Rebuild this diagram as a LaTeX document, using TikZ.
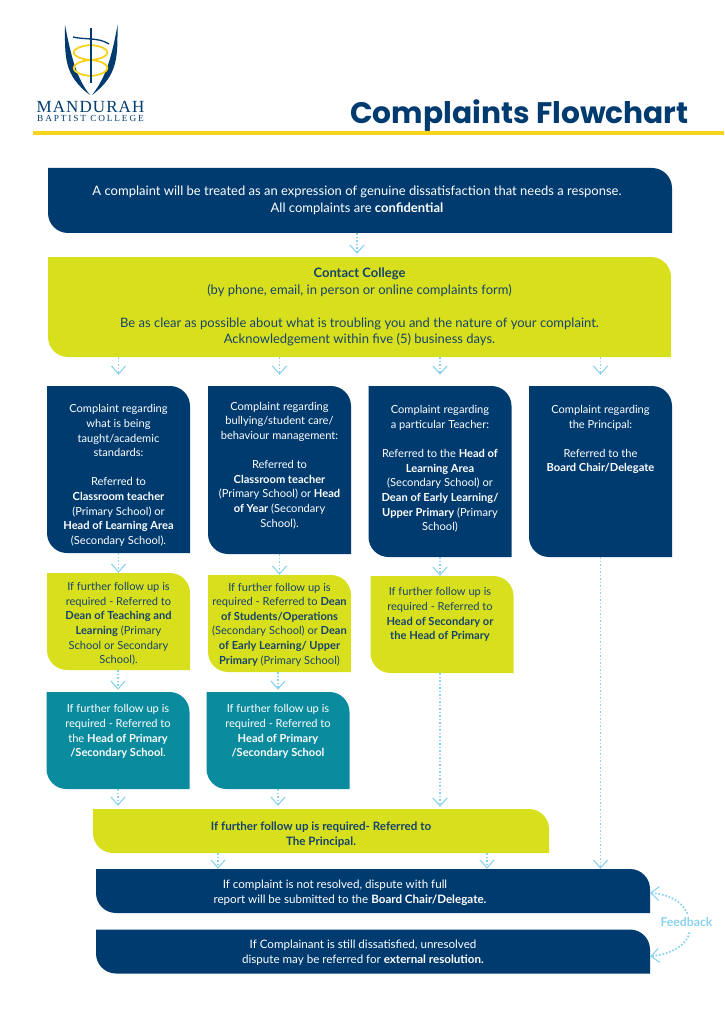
\documentclass[tikz,border=0pt]{standalone}
\usepackage{fontspec}
\setmainfont{Lato}
\newfontfamily\titlefont{Poppins}
\newfontfamily\crestfont[LetterSpace=6.5]{Liberation Serif}
\newfontfamily\crestsubfont[LetterSpace=20]{Liberation Serif}
\usepackage{xcolor}
\usetikzlibrary{positioning,arrows.meta}
\definecolor{navy}{HTML}{003B70}
\definecolor{lime}{HTML}{D8E01E}
\definecolor{teal}{HTML}{0A8B9E}
\definecolor{goldline}{HTML}{F7D31E}
\definecolor{sky}{HTML}{8AD2EE}
\definecolor{inkblue}{HTML}{17436A}
\newcommand{\bodysize}{\fontsize{11.1}{14.6}\selectfont}

\begin{document}
\begin{tikzpicture}[x=1pt, y=-1pt,
    panel/.style={rectangle, inner sep=0pt, align=center, path picture={
        \fill[#1] (path picture bounding box.north west) [rounded corners=20pt]
            -- (path picture bounding box.north east) [sharp corners]
            -- (path picture bounding box.south east) [rounded corners=20pt]
            -- (path picture bounding box.south west) [sharp corners] -- cycle;}},
    navybox/.style={panel=navy, text=white, minimum width=143pt, font=\bodysize},
    limebox/.style={panel=lime, text=inkblue, minimum width=143pt, minimum height=97pt, font=\bodysize},
    tealbox/.style={panel=teal, text=white, minimum width=143pt, minimum height=97pt, font=\bodysize},
    bandbox/.style={panel=navy, text=white, minimum width=554pt, minimum height=44pt, font=\fontsize{11.6}{15}\selectfont},
    flow/.style={draw=sky, line width=1.7pt, dash pattern=on 1.7pt off 1.8pt, -{Straight Barb[length=8pt,width=14pt,line width=1.1pt]}}
]
\useasboundingbox (0,0) rectangle (724,1024);

% crest
\fill[navy] (65,25) .. controls (65,55) and (63,75) .. (90,95) .. controls (78,80) and (72,62) .. cycle;
\fill[navy] (117.5,25) .. controls (117.5,55) and (119,75) .. (92,95) .. controls (104,80) and (111,62) .. cycle;
\draw[goldline, line width=1.8pt] (90.7,45) .. controls (68,47) and (68,58) .. (90.7,60) .. controls (113,58) and (113,47) .. cycle;
\draw[goldline, line width=1.8pt] (90.7,60) .. controls (68,62) and (68,74) .. (90.7,76) .. controls (113,74) and (113,62) .. cycle;
\draw[navy, line width=1.7pt] (90.7,28) -- (90.7,83);
\draw[navy, line width=1.3pt] (73,37) .. controls (85,40) and (98,37) .. (109,44);
\node[text=navy, font=\crestfont\fontsize{17}{16}\selectfont, inner sep=0pt] (crestname) at (90.5,106.5) {MANDURAH};
\node[text=navy, font=\crestsubfont\fontsize{9.3}{10}\selectfont, inner sep=0pt] (crestsub) at (90.5,118) {BAPTIST COLLEGE};

% title
\node[text=navy, font=\titlefont\bfseries\fontsize{29.7}{30}\selectfont, inner sep=0pt] (title) at (519.5,116) {Complaints Flowchart};
\fill[goldline] (33,131) rectangle (724,135);

% top of the chart
\node[panel=navy, text=white, minimum width=624pt, minimum height=65pt, font=\fontsize{13}{16.5}\selectfont] (intro) at (360,200.5)
    {A complaint will be treated as an expression of genuine dissatisfaction that needs a response.\kern6pt\\All complaints are \textbf{confidential}\kern6pt};
\node[panel=lime, text=inkblue, minimum width=623pt, minimum height=100pt, font=\fontsize{13}{16.5}\selectfont] (contact) at (359.5,307)
    {\textbf{Contact College}\\(by phone, email, in person or online complaints form)\\[16.5pt]Be as clear as possible about what is troubling you and the nature of your complaint.\\Acknowledgement within five (5) business days.};

% first row
\node[navybox, minimum height=167pt] (teaching) at (118.5,469.5)
    {~\\[5.4pt]Complaint regarding\\what is being\\taught/academic\\standards:\\[14.6pt]Referred to\\\textbf{Classroom teacher}\\(Primary School) or\\\textbf{Head of Learning Area}\\(Secondary School).};
\node[navybox, minimum height=168pt] (bullying) at (279.5,470)
    {Complaint regarding\\bullying/student care/\\behaviour management:\\[14.6pt]Referred to\\\textbf{Classroom teacher}\\(Primary School) or \textbf{Head}\\\textbf{of Year} (Secondary\\School).\\[-4pt]~};
\node[navybox, minimum height=171pt] (teacher) at (440,471.5)
    {Complaint regarding\\a particular Teacher:\\[14.6pt]Referred to the \textbf{Head of}\\\textbf{Learning Area}\\(Secondary School) or\\\textbf{Dean of Early Learning/}\\\textbf{Upper Primary} (Primary\\School)\\[-8pt]~};
\node[navybox, minimum height=171pt] (principal) at (600.5,471.5)
    {Complaint regarding\\the Principal:\\[14.6pt]Referred to the\\\textbf{Board Chair/Delegate}\\[51pt]~};

% second row
\node[limebox] (deanteach) at (118.5,621.5)
    {~\\[-1.6pt]If further follow up is\\required - Referred to\\\textbf{Dean of Teaching and}\\\textbf{Learning} (Primary\\School or Secondary\\School).};
\node[limebox] (deanstud) at (279.5,623.5)
    {~\\[-4.6pt]If further follow up is\\required - Referred to \textbf{Dean}\\\textbf{of Students/Operations}\\(Secondary School) or \textbf{Dean}\\\textbf{of Early Learning/ Upper}\\\textbf{Primary} (Primary School)};
\node[limebox] (headsec) at (442,624.5)
    {If further follow up is\kern4pt\\required - Referred to\kern4pt\\\textbf{Head of Secondary or}\kern4pt\\\textbf{the Head of Primary}\kern4pt\\[7pt]~};

% third row
\node[tealbox] (headone) at (118,740.5)
    {If further follow up is\\required - Referred to\\the \textbf{Head of Primary}\\\textbf{/Secondary School}.\\[5pt]~};
\node[tealbox] (headtwo) at (278,740.5)
    {If further follow up is\\required - Referred to\\\textbf{Head of Primary}\\\textbf{/Secondary School}\\[5pt]~};

% bottom bands
\node[panel=lime, text=inkblue, minimum width=456pt, minimum height=44pt, font=\fontsize{11.6}{15}\selectfont] (finalstep) at (321,831)
    {~\\[1pt]\textbf{If further follow up is required- Referred to}\\\textbf{The Principal.}};
\node[bandbox] (board) at (373,891)
    {~\\[-3pt]If complaint is not resolved, dispute with full\kern76pt\\report will be submitted to the \textbf{Board Chair/Delegate.}\kern46pt};
\node[bandbox] (external) at (373,951.5)
    {~\\[-4pt]If Complainant is still dissatisfied, unresolved\kern20pt\\dispute may be referred for \textbf{external resolution.}\kern20pt};
\node[text=sky, font=\bfseries\fontsize{12.2}{12}\selectfont, inner sep=0pt] (feedback) at (686.5,922.5) {Feedback};

% connectors
\draw[flow, shorten >=3pt] ([xshift=-2.5pt]intro.south -| contact.north) -- ([xshift=-2.5pt]contact.north);
\foreach \col in {teaching,bullying,teacher,principal}
    \draw[flow, shorten >=11pt] (contact.south -| \col.north) -- (\col.north);
\draw[flow] (teaching.south) -- (teaching.south |- deanteach.north);
\draw[flow] (bullying.south) -- (bullying.south |- deanstud.north);
\draw[flow] (teacher.south) -- (teacher.south |- headsec.north);
\draw[flow, shorten >=2pt] (deanteach.south -| headone.north) -- (headone.north);
\draw[flow, shorten >=2pt] (deanstud.south -| headtwo.north) -- (headtwo.north);
\draw[flow, shorten >=3pt] (headone.south) -- (headone.south |- finalstep.north);
\draw[flow, shorten >=3pt] (headtwo.south) -- (headtwo.south |- finalstep.north);
\draw[flow, shorten >=2pt] ([xshift=-2pt]headsec.south) -- ([xshift=-2pt]headsec.south |- finalstep.north);
\draw[flow] (principal.south) -- (principal.south |- board.north);
\draw[flow] ([xshift=-103pt]finalstep.south) -- ([xshift=-103pt]finalstep.south |- board.north);
\draw[flow] ([xshift=166pt]finalstep.south) -- ([xshift=166pt]finalstep.south |- board.north);
\draw[flow] ([xshift=1pt,yshift=4pt]feedback.north) .. controls (682,901) and (668,894) .. ([yshift=-2pt]board.east);
\draw[flow] ([xshift=3pt,yshift=-5pt]feedback.south) .. controls (687,946) and (670,954) .. ([yshift=-5pt]external.east);
\end{tikzpicture}
\end{document}
